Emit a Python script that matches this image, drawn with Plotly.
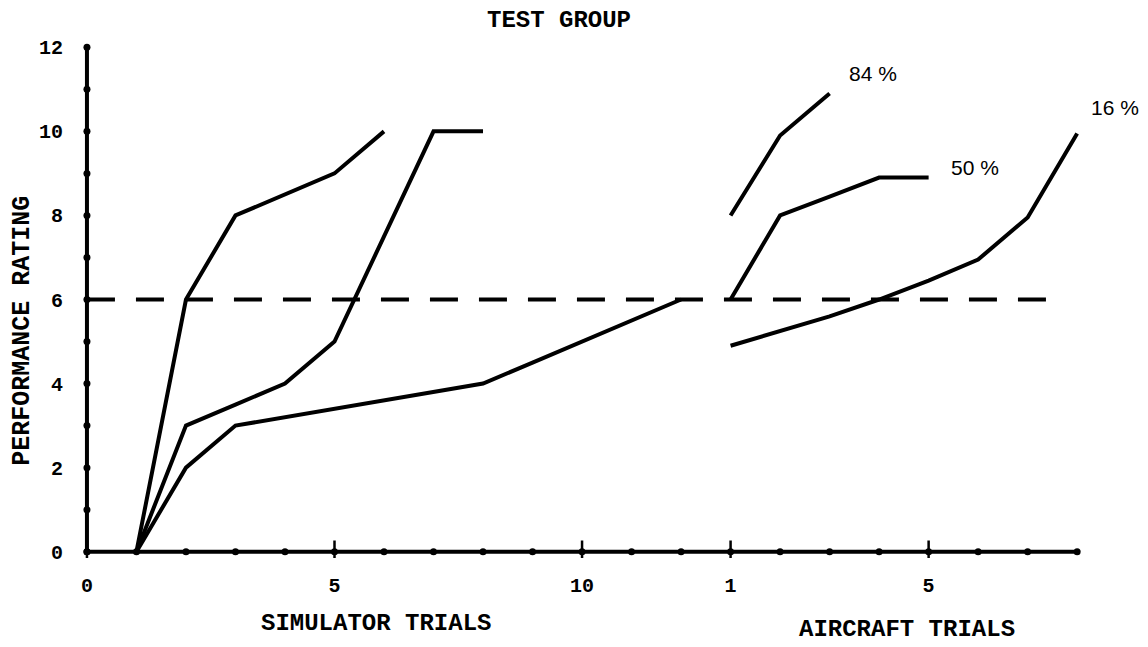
import plotly.graph_objects as go

# ---------------- data ----------------
# Simulator trials (positions 1..12 on the shared horizontal scale)
sim84_x = [1, 2, 3, 4, 5, 6]
sim84_y = [0, 6, 8, 8.5, 9, 10]
sim50_x = [1, 2, 3, 4, 5, 6, 7, 8]
sim50_y = [0, 3, 3.5, 4, 5, 7.5, 10, 10]
sim16_x = [1, 2, 3, 4, 5, 6, 7, 8, 9, 10, 11, 12]
sim16_y = [0, 2, 3, 3.2, 3.4, 3.6, 3.8, 4, 4.5, 5, 5.5, 6]

# Aircraft trials (trial k drawn at position AIRCRAFT_OFFSET + k)
AIRCRAFT_OFFSET = 12
ac84_x = [1, 2, 3]
ac84_y = [8, 9.9, 10.9]
ac50_x = [1, 2, 3, 4, 5]
ac50_y = [6, 8, 8.45, 8.9, 8.9]
ac16_x = [1, 2, 3, 4, 5, 6, 7, 8]
ac16_y = [4.9, 5.25, 5.6, 6.0, 6.45, 6.95, 7.95, 9.95]

CRITERION = 6
criterion_extent = [0, 19.5]

axis_x_positions = list(range(0, 21))
axis_y_positions = list(range(0, 13))
major_x_ticks = [0, 5, 10, 13, 17]
major_x_text = ["0", "5", "10", "1", "5"]
y_ticks = [0, 2, 4, 6, 8, 10, 12]

curve_labels = ["84 %", "50 %", "16 %"]
# ---------------------------------------

MONO = "Liberation Mono"
X_RANGE = [-0.1, 20.3]
fig = go.Figure()

def add_line(x, y):
    fig.add_trace(go.Scatter(x=x, y=y, mode="lines",
                             line=dict(color="black", width=4),
                             hoverinfo="skip", showlegend=False))

# axes drawn as traces so the dots sit at every integer
fig.add_trace(go.Scatter(x=axis_x_positions, y=[0] * len(axis_x_positions),
                         mode="lines+markers",
                         line=dict(color="black", width=4),
                         marker=dict(color="black", size=7),
                         hoverinfo="skip", showlegend=False))
fig.add_trace(go.Scatter(x=[0] * len(axis_y_positions), y=axis_y_positions,
                         mode="lines+markers",
                         line=dict(color="black", width=4),
                         marker=dict(color="black", size=7),
                         hoverinfo="skip", showlegend=False))
fig.add_trace(go.Scatter(x=major_x_ticks, y=[0] * len(major_x_ticks),
                         mode="markers",
                         marker=dict(symbol="line-ns-open", size=16,
                                     color="black",
                                     line=dict(color="black", width=2.5)),
                         hoverinfo="skip", showlegend=False))

# criterion dashed line
fig.add_trace(go.Scatter(x=criterion_extent, y=[CRITERION, CRITERION],
                         mode="lines",
                         line=dict(color="black", width=4, dash="28px,21px"),
                         hoverinfo="skip", showlegend=False))

add_line(sim84_x, sim84_y)
add_line(sim50_x, sim50_y)
add_line(sim16_x, sim16_y)
add_line([AIRCRAFT_OFFSET + v for v in ac84_x], ac84_y)
add_line([AIRCRAFT_OFFSET + v for v in ac50_x], ac50_y)
add_line([AIRCRAFT_OFFSET + v for v in ac16_x], ac16_y)

label_font = dict(family="Liberation Sans", size=21, color="black")
label_pos = [(15.87, 11.38), (17.93, 9.15), (20.76, 10.57)]
for txt, (lx, ly) in zip(curve_labels, label_pos):
    # paper-referenced x so labels beyond the axis range still show
    px = (lx - X_RANGE[0]) / (X_RANGE[1] - X_RANGE[0])
    fig.add_annotation(x=px, xref="paper", y=ly, yref="y", text=txt,
                       showarrow=False, font=label_font,
                       xanchor="center", yanchor="middle")

title_font = dict(family=MONO, size=24, color="black", weight="bold")
fig.add_annotation(x=9.53, y=1.04, xref="x", yref="paper", text="TEST GROUP",
                   showarrow=False, font=title_font, yanchor="middle")
fig.add_annotation(x=5.83, y=-0.126, xref="x", yref="paper",
                   text="SIMULATOR TRIALS", showarrow=False, font=title_font,
                   yanchor="middle")
fig.add_annotation(x=16.56, y=-0.139, xref="x", yref="paper",
                   text="AIRCRAFT TRIALS", showarrow=False, font=title_font,
                   yanchor="middle")
fig.add_annotation(x=-0.0597, y=5.25, xref="paper", yref="y",
                   text="PERFORMANCE RATING", textangle=-90, showarrow=False,
                   font=dict(family=MONO, size=25, color="black", weight="bold"),
                   xanchor="center", yanchor="middle")

tick_font = dict(family=MONO, size=20, color="black", weight="bold")
fig.update_layout(
    width=1140, height=639,
    margin=dict(l=74.3, r=56, t=32.7, b=89),
    paper_bgcolor="white", plot_bgcolor="white",
    xaxis=dict(range=X_RANGE, showgrid=False, zeroline=False,
               showline=False, tickvals=major_x_ticks, ticktext=major_x_text,
               ticks="", tickfont=tick_font, ticklabelstandoff=13),
    yaxis=dict(range=[-0.15, 12.15], showgrid=False, zeroline=False,
               showline=False, tickvals=y_ticks, ticks="", tickfont=tick_font,
               ticklabelstandoff=18),
)

fig.write_html("out.html")
